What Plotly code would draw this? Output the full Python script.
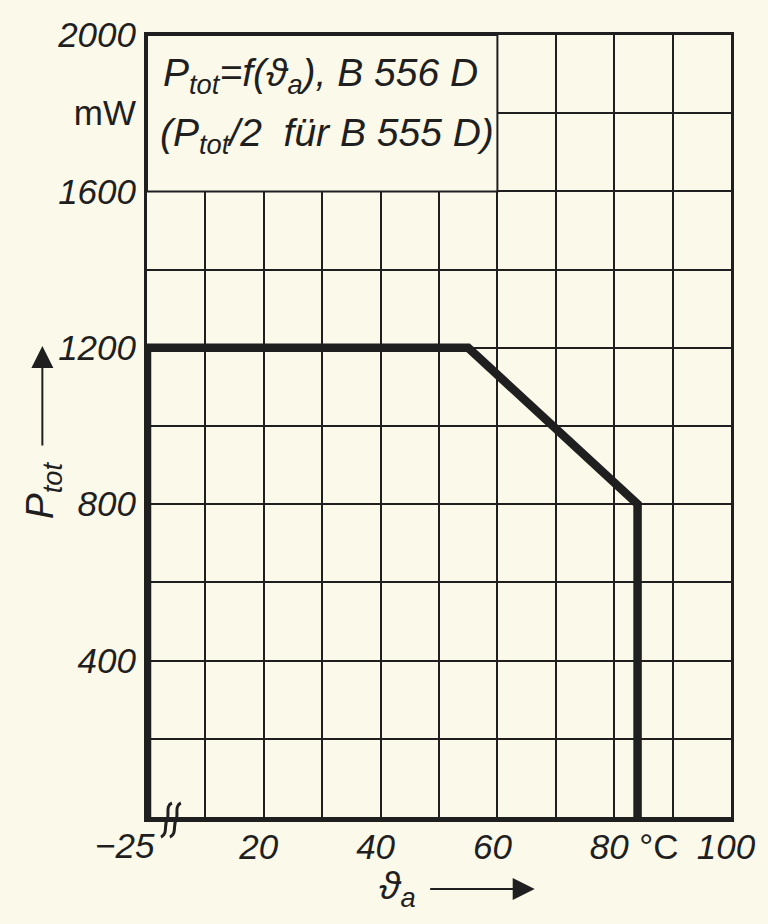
import plotly.graph_objects as go

# ---- data ----
temp_c = [0, 0, 55, 84, 84]            # ϑa axis position (linear, 0 == -25 after break)
p_tot_mw = [0, 1200, 1200, 800, 0]     # Ptot in mW

x_tick_vals = [20, 40, 60, 80, 88.5, 100]
x_tick_text = ["20", "40", "60", "80", "°C", "100"]
y_tick_vals = [400, 800, 1200, 1600, 1800, 2000]
y_tick_text = ["400", "800", "1200", "1600", "mW", "2000"]
upright_labels = {"°C", "mW"}

INK = "#1f1f1f"
PAPER = "#fbf9ea"
FONT = "Liberation Sans, Arial, sans-serif"

W, H = 768, 924
L, R, T, B = 147, 35, 35, 107
PW, PH = W - L - R, H - T - B


def px(x):
    return (x - L) / PW


def py(y):
    return (H - B - y) / PH


def fmt(labels):
    return [t if t in upright_labels else "<i>%s</i>" % t for t in labels]


fig = go.Figure()
fig.add_trace(go.Scatter(x=temp_c, y=p_tot_mw, mode="lines",
                         line=dict(color=INK, width=8.5), hoverinfo="skip",
                         showlegend=False))
fig.add_trace(go.Scatter(x=[None], y=[None], xaxis="x2", yaxis="y2",
                         showlegend=False, hoverinfo="skip"))

tick_font = dict(family=FONT, size=35, color=INK)

fig.update_layout(
    width=W, height=H,
    margin=dict(l=L, r=R, t=T, b=B),
    paper_bgcolor=PAPER, plot_bgcolor=PAPER,
    xaxis=dict(range=[0, 100], tickmode="linear", tick0=0, dtick=10,
               showgrid=True, gridcolor=INK, gridwidth=2, zeroline=False,
               showline=True, linecolor=INK, linewidth=3, mirror=True,
               showticklabels=False, ticks=""),
    yaxis=dict(range=[0, 2000], tickmode="linear", tick0=0, dtick=200,
               showgrid=True, gridcolor=INK, gridwidth=2, zeroline=False,
               showline=True, linecolor=INK, linewidth=3, mirror=True,
               showticklabels=False, ticks=""),
    xaxis2=dict(range=[0, 100], overlaying="x", anchor="y2", side="bottom",
                tickmode="array", tickvals=x_tick_vals, ticktext=fmt(x_tick_text),
                showgrid=False, zeroline=False, showline=True, linecolor=INK,
                linewidth=5, ticks="", tickfont=tick_font, tickangle=0,
                ticklabelstandoff=-5, ticklabelshift=-5),
    yaxis2=dict(range=[0, 2000], overlaying="y", anchor="x2", side="left",
                tickmode="array", tickvals=y_tick_vals, ticktext=fmt(y_tick_text),
                showgrid=False, zeroline=False, showline=False, ticks="",
                tickfont=tick_font, ticklabelstandoff=10),
)

# white label box hiding grid in upper-left
fig.add_shape(type="rect", xref="x", yref="y", x0=0, x1=60, y0=1600, y1=2000,
              fillcolor=PAPER, line=dict(color=INK, width=2), layer="between")

ann_font = dict(family=FONT, size=39, color=INK, style="italic")
fig.add_annotation(xref="paper", yref="paper", x=px(161), y=py(75),
                   xanchor="left", yanchor="middle", showarrow=False,
                   text="P<sub>tot</sub>=f(ϑ<sub>a</sub>), B 556 D", font=ann_font)
fig.add_annotation(xref="paper", yref="paper", x=px(158), y=py(136),
                   xanchor="left", yanchor="middle", showarrow=False,
                   text="(P<sub>tot</sub>/2  für B 555 D)", font=ann_font)

# -25 label left of the axis break
fig.add_annotation(xref="paper", yref="paper", x=px(157), y=py(846),
                   xanchor="right", yanchor="middle", showarrow=False,
                   text="−25", font=dict(tick_font, style="italic"))


# break marks (two small s-curves)
def squiggle(dx):
    pts = [(172 + dx, 803), (165 + dx, 806), (170 + dx, 815), (167 + dx, 820),
           (164 + dx, 826), (168 + dx, 834), (161 + dx, 837)]
    p = ["%.4f,%.4f" % (px(a), py(b)) for a, b in pts]
    return "M %s C %s %s %s C %s %s %s" % tuple(p)


for dx in (0, 9):
    fig.add_shape(type="path", xref="paper", yref="paper", path=squiggle(dx),
                  line=dict(color=INK, width=3), layer="above")

# axis titles
fig.add_annotation(xref="paper", yref="paper", x=px(398), y=py(888),
                   xanchor="center", yanchor="middle", showarrow=False,
                   text="ϑ<sub>a</sub>", font=ann_font)
fig.add_annotation(xref="paper", yref="paper", x=px(536), y=py(889),
                   ax=-106, ay=0, showarrow=True, arrowhead=2, arrowsize=2.2,
                   arrowwidth=2, arrowcolor=INK, text="")
fig.add_annotation(xref="paper", yref="paper", x=px(42), y=py(490),
                   xanchor="center", yanchor="middle", showarrow=False,
                   textangle=-90, text="P<sub>tot</sub>", font=ann_font)
fig.add_annotation(xref="paper", yref="paper", x=px(42), y=py(346),
                   ax=0, ay=101, showarrow=True, arrowhead=2, arrowsize=2.2,
                   arrowwidth=2, arrowcolor=INK, text="")

fig.write_html("out.html", config={"displayModeBar": False},
               post_script="document.body.style.margin='0';"
                           "document.body.style.overflow='hidden';")
